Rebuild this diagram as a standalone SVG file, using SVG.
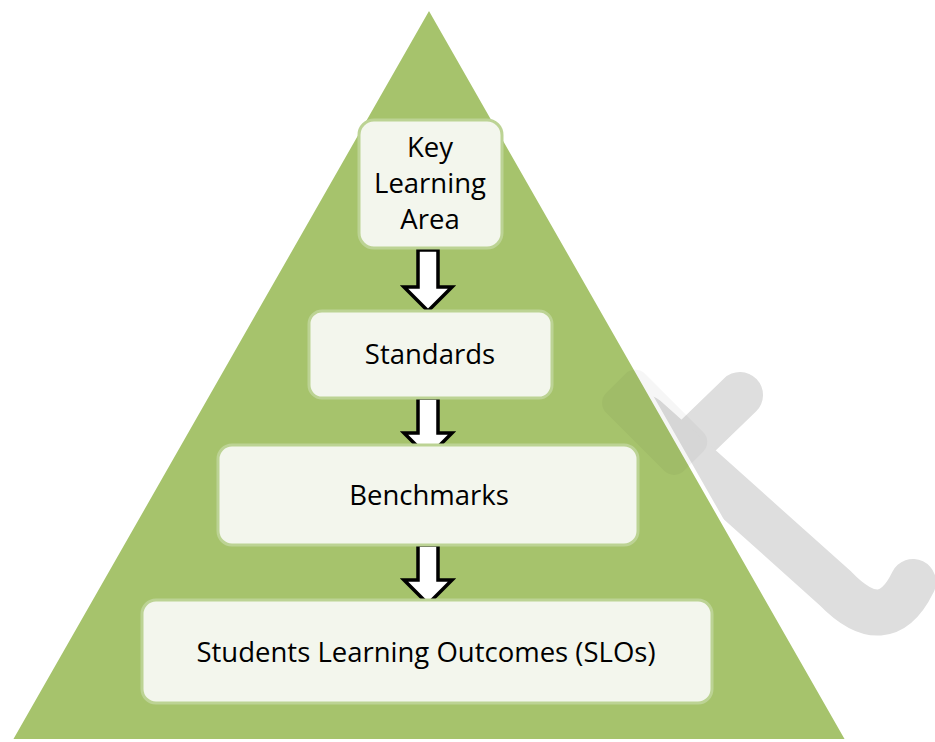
<svg xmlns="http://www.w3.org/2000/svg" width="935" height="742" viewBox="0 0 935 742">
<defs>
<style>
.box{fill:#f3f6ed;stroke:#bcd394;stroke-width:3}
.lbl{font-family:"Open Sans","Noto Sans",sans-serif;font-size:27.5px;fill:#000;text-anchor:middle}
.arr{fill:#fff;stroke:#000;stroke-width:3.5;stroke-linejoin:miter}
.wm{fill:none;stroke:#dedede;stroke-width:46;stroke-linecap:round;stroke-linejoin:round}
</style>
</defs>
<rect width="935" height="742" fill="#fff"/>
<g id="watermark">
<path class="wm" d="M740,395 L680,453"/>
<path class="wm" d="M645,418 L835,588 Q885,640 913,582"/>
</g>
<g id="pyramid">
<polygon points="429,7 10,741 848,741" fill="#a6c36c" stroke="#fff" stroke-width="4"/>
<g opacity="0.03" fill="#000">
<rect x="600" y="395" width="110" height="55" rx="14" transform="rotate(45 655 422)"/>
</g>
</g>
<g id="connectors">
<polygon class="arr" points="418,250 438,250 438,287 452,287 428,311 404,287 418,287"/>
<polygon class="arr" points="418,398 438,398 438,433 452,433 428,457 404,433 418,433"/>
<polygon class="arr" points="418,545 438,545 438,580 452,580 428,604 404,580 418,580"/>
</g>
<g id="node-kla">
<rect class="box" x="359" y="120" width="143" height="128" rx="15"/>
<text class="lbl" x="430" y="157">Key</text>
<text class="lbl" x="430" y="193">Learning</text>
<text class="lbl" x="430" y="229">Area</text>
</g>
<g id="node-standards">
<rect class="box" x="309" y="311" width="243" height="87" rx="13"/>
<text class="lbl" x="430" y="364">Standards</text>
</g>
<g id="node-benchmarks">
<rect class="box" x="218" y="445" width="420" height="100" rx="14"/>
<text class="lbl" x="429" y="505">Benchmarks</text>
</g>
<g id="node-slos">
<rect class="box" x="142" y="600" width="570" height="103" rx="14"/>
<text class="lbl" x="426" y="662">Students Learning Outcomes (SLOs)</text>
</g>
</svg>
